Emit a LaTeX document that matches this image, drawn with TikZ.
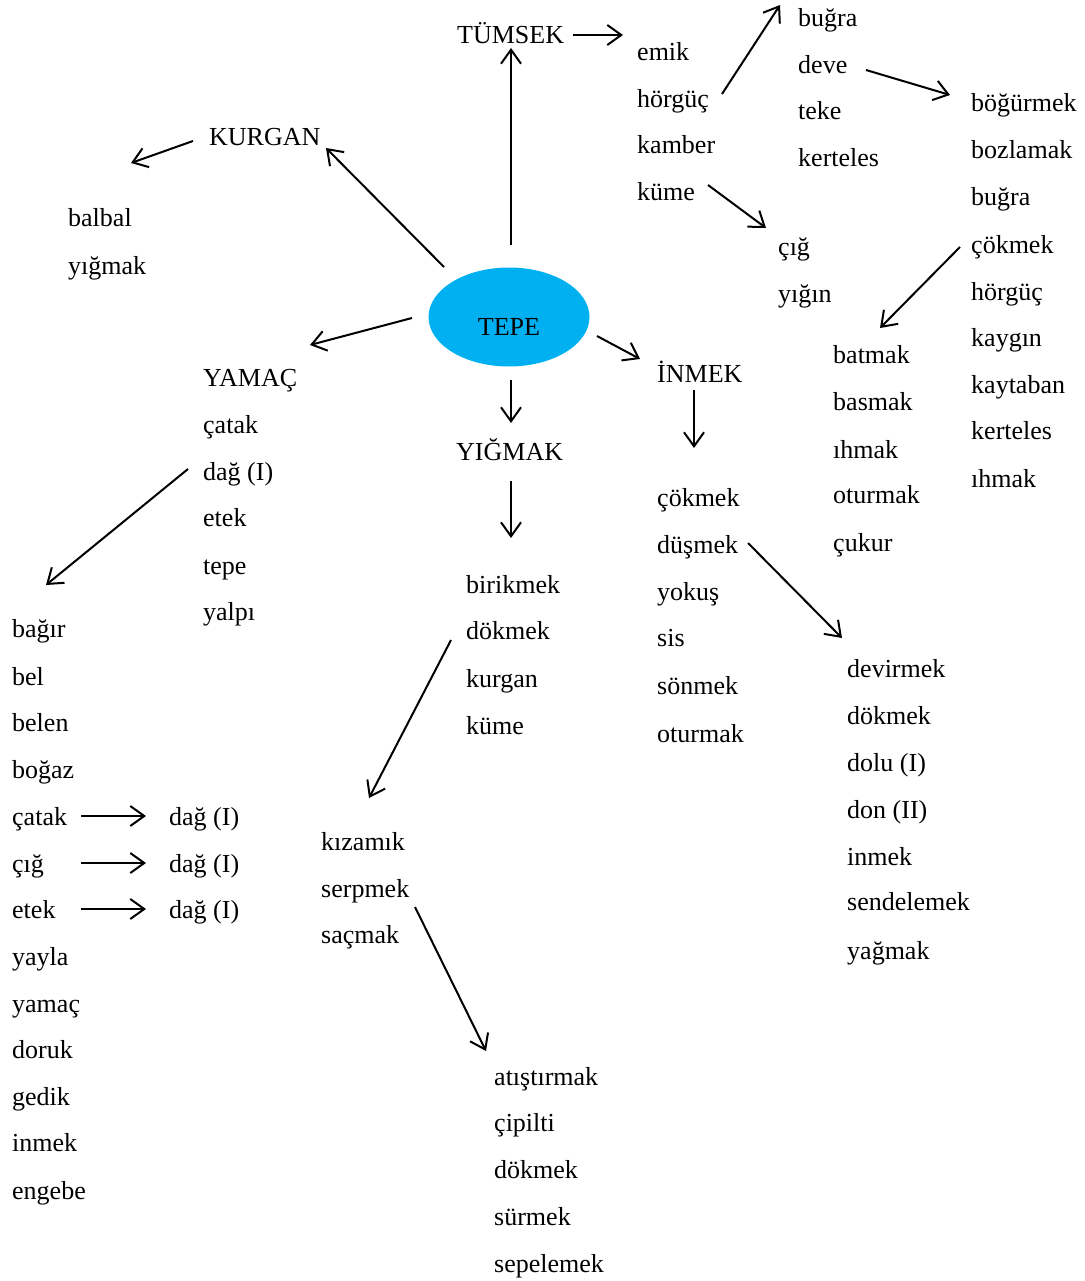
\documentclass[tikz,border=0pt]{standalone}
\usepackage{fontspec}
\setmainfont{Liberation Serif}
\usetikzlibrary{arrows.meta,shapes.geometric}
\begin{document}
\begin{tikzpicture}[x=1pt,y=-1pt,
  word/.style={anchor=west,inner sep=0pt,text height=21pt,text depth=3pt,font=\fontsize{26}{30}\selectfont},
  arr/.style={line width=2pt,-{Straight Barb[length=14pt,width=20pt,line width=2pt]}}]
\useasboundingbox (0,0) rectangle (1084,1281);
% center
\node[ellipse,fill={rgb,255:red,0;green,176;blue,240},minimum width=161pt,minimum height=99pt,inner sep=0pt,text height=36pt,text depth=0pt,font=\fontsize{26}{30}\selectfont] (tepe) at (509,317) {TEPE};
% TUMSEK group
\node[word] (tumsek) at (457,35) {TÜMSEK};
\node[word] (emik) at (637,52) {emik};
\node[word] (horguc) at (637,99) {hörgüç};
\node[word] (kamber) at (637,145) {kamber};
\node[word] (kume) at (637,192) {küme};
\node[word] (bugra) at (798,18) {buğra};
\node[word] (deve) at (798,65) {deve};
\node[word] (teke) at (798,111) {teke};
\node[word] (kerteles) at (798,158) {kerteles};
\node[word] (bogurmek) at (971,103) {böğürmek};
\node[word] (bozlamak) at (971,150) {bozlamak};
\node[word] (bugrab) at (971,197) {buğra};
\node[word] (cokmekb) at (971,244) {çökmek};
\node[word] (horgucb) at (971,291) {hörgüç};
\node[word] (kaygin) at (971,337) {kaygın};
\node[word] (kaytaban) at (971,384) {kaytaban};
\node[word] (kertelesb) at (971,430) {kerteles};
\node[word] (ihmakb) at (971,478) {ıhmak};
\node[word] (cig) at (778,246) {çığ};
\node[word] (yigin) at (778,293) {yığın};
\node[word] (batmak) at (833,354) {batmak};
\node[word] (basmak) at (833,401) {basmak};
\node[word] (ihmak) at (833,449) {ıhmak};
\node[word] (oturmakb) at (833,494) {oturmak};
\node[word] (cukur) at (833,542) {çukur};
% KURGAN
\node[word] (kurgan) at (209,137) {KURGAN};
\node[word] (balbal) at (68,217) {balbal};
\node[word] (yigmakw) at (68,265) {yığmak};
% YAMAC
\node[word] (yamac) at (203,377) {YAMAÇ};
\node[word] (catak) at (203,424) {çatak};
\node[word] (dag) at (203,471) {dağ (I)};
\node[word] (etek) at (203,517) {etek};
\node[word] (tepew) at (203,565) {tepe};
\node[word] (yalpi) at (203,611) {yalpı};
\node[word] (bagir) at (12,628) {bağır};
\node[word] (bel) at (12,676) {bel};
\node[word] (belen) at (12,722) {belen};
\node[word] (bogaz) at (12,769) {boğaz};
\node[word] (catakb) at (12,816) {çatak};
\node[word] (cigb) at (12,863) {çığ};
\node[word] (etekb) at (12,909) {etek};
\node[word] (yayla) at (12,956) {yayla};
\node[word] (yamacw) at (12,1003) {yamaç};
\node[word] (doruk) at (12,1049) {doruk};
\node[word] (gedik) at (12,1096) {gedik};
\node[word] (inmekw) at (12,1142) {inmek};
\node[word] (engebe) at (12,1190) {engebe};
\node[word] (dag1) at (169,816) {dağ (I)};
\node[word] (dag2) at (169,863) {dağ (I)};
\node[word] (dag3) at (169,909) {dağ (I)};
% YIGMAK
\node[word] (yigmak) at (456,451) {YIĞMAK};
\node[word] (birikmek) at (466,584) {birikmek};
\node[word] (dokmek) at (466,630) {dökmek};
\node[word] (kurganw) at (466,678) {kurgan};
\node[word] (kumeb) at (466,725) {küme};
\node[word] (kizamik) at (321,841) {kızamık};
\node[word] (serpmek) at (321,888) {serpmek};
\node[word] (sacmak) at (321,934) {saçmak};
\node[word] (atistirmak) at (494,1076) {atıştırmak};
\node[word] (cipilti) at (494,1122) {çipilti};
\node[word] (dokmekc) at (494,1169) {dökmek};
\node[word] (surmek) at (494,1216) {sürmek};
\node[word] (sepelemek) at (494,1263) {sepelemek};
% INMEK
\node[word] (inmek) at (657,373) {İNMEK};
\node[word] (cokmek) at (657,497) {çökmek};
\node[word] (dusmek) at (657,544) {düşmek};
\node[word] (yokus) at (657,591) {yokuş};
\node[word] (sis) at (657,637) {sis};
\node[word] (sonmek) at (657,685) {sönmek};
\node[word] (oturmak) at (657,733) {oturmak};
\node[word] (devirmek) at (847,668) {devirmek};
\node[word] (dokmekb) at (847,715) {dökmek};
\node[word] (dolu) at (847,762) {dolu (I)};
\node[word] (don) at (847,809) {don (II)};
\node[word] (inmekb) at (847,856) {inmek};
\node[word] (sendelemek) at (847,901) {sendelemek};
\node[word] (yagmak) at (847,950) {yağmak};
% connector end points
\coordinate (a1s) at (573,35);  \coordinate (a1e) at (623,35);
\coordinate (a2s) at (722,94);  \coordinate (a2e) at (780,5);
\coordinate (a3s) at (866,70);  \coordinate (a3e) at (950,95);
\coordinate (a4s) at (708,185); \coordinate (a4e) at (766,228);
\coordinate (a5s) at (960,247); \coordinate (a5e) at (880,328);
\coordinate (a6s) at (511,245); \coordinate (a6e) at (511,48);
\coordinate (a7s) at (444,267); \coordinate (a7e) at (326,148);
\coordinate (a8s) at (193,141); \coordinate (a8e) at (131,163);
\coordinate (a9s) at (412,318); \coordinate (a9e) at (310,345);
\coordinate (a10s) at (511,380); \coordinate (a10e) at (511,423);
\coordinate (a11s) at (597,336); \coordinate (a11e) at (640,359);
\coordinate (a12s) at (694,390); \coordinate (a12e) at (694,448);
\coordinate (a13s) at (511,481); \coordinate (a13e) at (511,538);
\coordinate (a14s) at (188,469); \coordinate (a14e) at (46,585);
\coordinate (a15s) at (748,543); \coordinate (a15e) at (842,638);
\coordinate (a16s) at (451,640); \coordinate (a16e) at (369,798);
\coordinate (a17s) at (81,816); \coordinate (a17e) at (146,816);
\coordinate (a18s) at (81,863); \coordinate (a18e) at (146,863);
\coordinate (a19s) at (81,909); \coordinate (a19e) at (146,909);
\coordinate (a20s) at (415,907); \coordinate (a20e) at (486,1051);
\foreach \i in {1,...,20} {\draw[arr] (a\i s) -- (a\i e);}
\end{tikzpicture}
\end{document}
